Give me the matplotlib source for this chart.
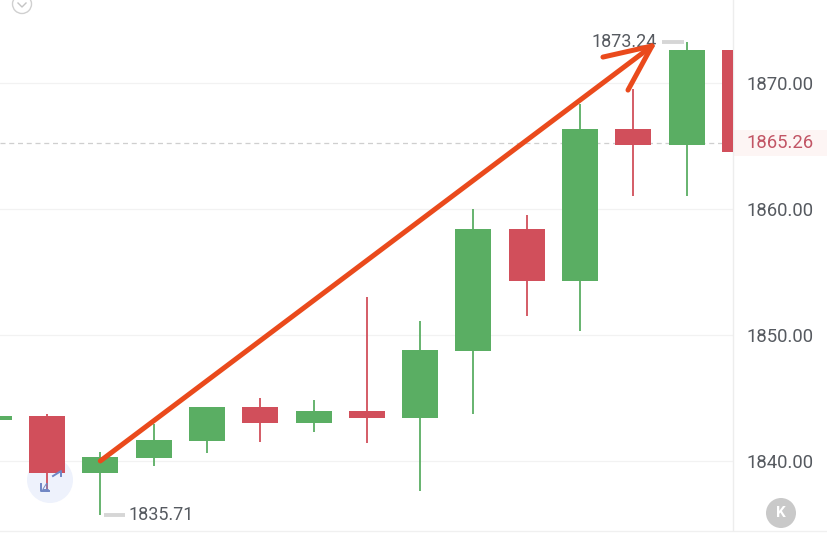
import matplotlib
matplotlib.use('Agg')
import matplotlib.pyplot as plt
from matplotlib.patches import Circle, Rectangle

plt.rcParams['font.family'] = ['Roboto', 'DejaVu Sans']

# candles, index -1 is the one cut by the left edge
candle_idx = [-1, 0, 1, 2, 3, 4, 5, 6, 7, 8, 9, 10, 11, 12, 13]
opens = [1843.25, 1843.57, 1839.05, 1840.2, 1841.6, 1844.3, 1843.0, 1844.0, 1843.4, 1848.7, 1858.4, 1854.3, 1866.33, 1865.08, 1872.62]
closes = [1843.57, 1839.05, 1840.3, 1841.7, 1844.3, 1843.0, 1844.0, 1843.4, 1848.8, 1858.4, 1854.3, 1866.33, 1865.08, 1872.62, 1864.52]
highs = [1843.57, 1843.75, 1840.7, 1842.9, 1844.3, 1845.0, 1844.8, 1853.0, 1851.1, 1860.0, 1859.5, 1868.3, 1869.5, 1873.24, 1872.62]
lows = [1843.25, 1837.7, 1835.71, 1839.6, 1840.6, 1841.5, 1842.3, 1841.4, 1837.6, 1843.7, 1851.5, 1850.3, 1861.0, 1861.0, 1864.52]

price_ticks = [1840, 1850, 1860, 1870]
last_price = 1865.26
max_label = '1873.24'
min_label = '1835.71'

# hand drawn arrow, in candle index / price
arrow_x = [1, 11.35]
arrow_y = [1840.0, 1872.94]
head_left_x = [10.43, 11.35]
head_left_y = [1872.06, 1872.94]
head_right_x = [10.9, 11.35]
head_right_y = [1869.44, 1872.94]

green = '#5AAE63'
red = '#D14F5B'
text_grey = '#565A60'
orange = '#EA4A1C'

W, H = 828, 534
fig = plt.figure(figsize=(W / 100, H / 100), dpi=100, facecolor='white')

# background layer in pixel units
ov = fig.add_axes([0, 0, 1, 1], zorder=-1)
ov.set_xlim(0, W)
ov.set_ylim(H, 0)
ov.axis('off')
ov.add_patch(Rectangle((733, 130), 95, 26, color='#FDF5F4', lw=0))
ov.plot([0, W], [530.5, 530.5], color='#F0F0F0', linewidth=1)
ov.add_patch(Circle((50, 480), 23, color='#EEF2FC', lw=0))

ax = fig.add_axes([0, 4 / H, 733 / W, 530 / H])
ax.patch.set_alpha(0)
ax.set_xlim(-0.882, 12.87)
ax.set_ylim(1834.52, 1876.59)
for s in ['top', 'left', 'bottom']:
    ax.spines[s].set_visible(False)
ax.spines['right'].set_color('#EDEDED')
ax.spines['right'].set_linewidth(1)
ax.set_xticks([])
ax.yaxis.tick_right()
ax.set_yticks(price_ticks)
ax.set_yticklabels([f'{p:.2f}' for p in price_ticks])
ax.tick_params(axis='y', length=0, pad=10, labelsize=13.3, labelcolor=text_grey)
ax.grid(axis='y', color='#F2F2F2', linewidth=0.9, zorder=0)

ax.axhline(last_price, color='#CFCFCF', linewidth=0.9, dashes=(4, 3), zorder=1)

for i, o, c, h, l in zip(candle_idx, opens, closes, highs, lows):
    col = green if c >= o else red
    ax.vlines(i, l, h, color=col, linewidth=1.3, zorder=2)
    ax.bar(i, abs(c - o), bottom=min(o, c), width=0.675, color=col, zorder=3)

# high / low markers
ax.plot([11.54, 11.95], [1873.24, 1873.24], color='#D6D6D6', linewidth=2.8, zorder=3, solid_capstyle='butt')
ax.text(11.45, 1873.24, max_label, ha='right', va='center', fontsize=13, color=text_grey, zorder=4)
ax.plot([1.06, 1.46], [1835.71, 1835.71], color='#D6D6D6', linewidth=2.8, zorder=3, solid_capstyle='butt')
ax.text(1.52, 1835.71, min_label, ha='left', va='center', fontsize=13, color=text_grey, zorder=4)

# arrow on top
for xs, ys in [(arrow_x, arrow_y), (head_left_x, head_left_y), (head_right_x, head_right_y)]:
    ax.plot(xs, ys, color=orange, linewidth=3.6, solid_capstyle='round', zorder=6, clip_on=False)

top = fig.add_axes([0, 0, 1, 1], zorder=5)
top.set_xlim(0, W)
top.set_ylim(H, 0)
top.axis('off')
top.text(780, 143.5, f'{last_price:.2f}', ha='center', va='center', fontsize=13.3, color='#C25565')

# collapse chevron top left
top.add_patch(Circle((22, 4), 9.5, fill=False, ec='#D0D0D0', lw=1))
top.plot([18, 22, 26], [3, 7, 3], color='#C4C4C4', lw=1)

# K button
top.add_patch(Circle((781, 513), 15, color='#C9C9C9', lw=0))
top.text(781, 513, 'K', ha='center', va='center', fontsize=11, fontweight='bold', color='white')

# zoom badge glyphs
top.plot([53, 61, 61], [476, 471, 476], color='#6F86C4', lw=1.4)
top.plot([41, 41, 49], [484, 491, 491], color='#6F86C4', lw=1.4)
top.text(45, 488, '4', ha='center', va='center', fontsize=9, color='#6F86C4')

fig.savefig('out.png', dpi=100)
